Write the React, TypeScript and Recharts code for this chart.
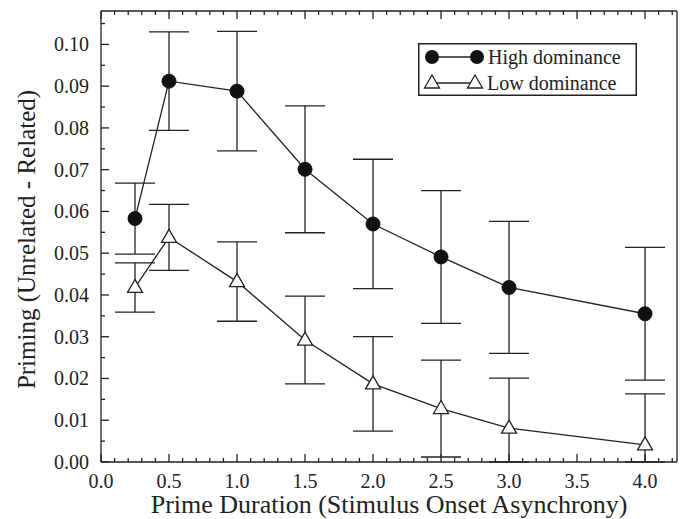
import { LineChart, Line, XAxis, YAxis, ErrorBar, Legend } from 'recharts';

const durations = [0.25, 0.5, 1.0, 1.5, 2.0, 2.5, 3.0, 4.0];
const highMean = [0.0583, 0.0912, 0.0888, 0.0701, 0.057, 0.0491, 0.0418, 0.0355];
const highErr = [0.0085, 0.0118, 0.0143, 0.0152, 0.0155, 0.0159, 0.0158, 0.0159];
const lowMean = [0.0418, 0.0538, 0.0432, 0.0292, 0.0187, 0.0128, 0.0081, 0.0041];
const lowErr = [0.0059, 0.0079, 0.0095, 0.0105, 0.0113, 0.0116, 0.012, 0.0122];

const seriesNames = ['High dominance', 'Low dominance'];
const xTitle = 'Prime Duration (Stimulus Onset Asynchrony)';
const yTitle = 'Priming (Unrelated - Related)';

// every 0.1 on x, every 0.005 on y; labels only on the majors
const xTicks = Array.from({ length: 43 }, (_, i) => i / 10);
const yTicks = Array.from({ length: 22 }, (_, i) => (i * 5) / 1000);

const chartData = durations.map((d, i) => ({
  duration: d,
  high: highMean[i],
  highErr: highErr[i],
  low: lowMean[i],
  lowErr: lowErr[i],
}));

const ink = '#222';
const font = '"Liberation Serif", "Times New Roman", serif';

const isMajorX = (v: number) => Math.abs(v * 2 - Math.round(v * 2)) < 1e-6;
const isMajorY = (v: number) => Math.abs(v * 100 - Math.round(v * 100)) < 1e-6;

// error bars stop at the x axis, like in the original plot
const clippedErr = (mean: string, err: string) => (d: any) => [Math.min(d[err], d[mean]), d[err]];

// ticks point inwards on all four sides
const XTick = (props: any) => {
  const { x, y, payload, side } = props;
  const v = payload.value as number;
  const major = isMajorX(v);
  const dir = side === 'bottom' ? -1 : 1;
  const len = major ? 8 : 4;
  return (
    <g>
      <path d={`M${x},${y}V${y + dir * len}`} stroke={ink} strokeWidth={1.3} fill="none" />
      {side === 'bottom' && major && (
        <text x={x} y={y + 26} textAnchor="middle" fontFamily={font} fontSize={20} fill={ink}>
          {v.toFixed(1)}
        </text>
      )}
    </g>
  );
};

const YTick = (props: any) => {
  const { x, y, payload, side } = props;
  const v = payload.value as number;
  const major = isMajorY(v);
  const dir = side === 'left' ? 1 : -1;
  const len = major ? 8 : 4;
  return (
    <g>
      <path d={`M${x},${y}H${x + dir * len}`} stroke={ink} strokeWidth={1.3} fill="none" />
      {side === 'left' && major && (
        <text x={x - 12} y={y + 7} textAnchor="end" fontFamily={font} fontSize={20} fill={ink}>
          {v.toFixed(2)}
        </text>
      )}
    </g>
  );
};

const XTitle = (props: any) => {
  const { viewBox } = props;
  return (
    <text x={viewBox.x + viewBox.width / 2} y={viewBox.y + 51} textAnchor="middle" fontFamily={font} fontSize={26} fill={ink}>
      {xTitle}
    </text>
  );
};

const YTitle = (props: any) => {
  const { viewBox } = props;
  const cy = viewBox.y + viewBox.height / 2 + 3;
  return (
    <text transform={`translate(35, ${cy}) rotate(-90)`} textAnchor="middle" fontFamily={font} fontSize={25} fill={ink}>
      {yTitle}
    </text>
  );
};

const TriangleDot = (props: any) => {
  const { cx, cy } = props;
  if (cx == null || cy == null) return null;
  return (
    <path
      d={`M${cx},${cy - 8} L${cx + 7.5},${cy + 5} L${cx - 7.5},${cy + 5} Z`}
      fill="#fff"
      stroke={ink}
      strokeWidth={1.3}
    />
  );
};

const CircleDot = (props: any) => {
  const { cx, cy } = props;
  if (cx == null || cy == null) return null;
  return <circle cx={cx} cy={cy} r={7} fill="#111" stroke="#111" />;
};

const LegendBox = () => (
  <svg width={219} height={53} style={{ display: 'block' }}>
    <rect x={0.75} y={0.75} width={217.5} height={51.5} fill="#fff" stroke={ink} strokeWidth={1.5} />
    <line x1={14} y1={14} x2={59} y2={14} stroke={ink} strokeWidth={1.3} />
    <circle cx={14} cy={14} r={7} fill="#111" />
    <circle cx={59} cy={14} r={7} fill="#111" />
    <text x={70} y={21} fontFamily={font} fontSize={20} fill={ink}>{seriesNames[0]}</text>
    <line x1={14} y1={40} x2={57} y2={40} stroke={ink} strokeWidth={1.3} />
    <TriangleDot cx={14} cy={40} />
    <TriangleDot cx={57} cy={40} />
    <text x={69} y={47} fontFamily={font} fontSize={20} fill={ink}>{seriesNames[1]}</text>
  </svg>
);

export default function App() {
  return (
    <div style={{ position: 'absolute', left: 0, top: 0, background: '#fff' }}>
      {/* negative top/right margins: the mirror axes take 20px each but the frame must sit at y=11, x=677 */}
      <LineChart width={684} height={519} data={chartData} margin={{ top: -9, right: -13, bottom: 0, left: 0 }}>
        <XAxis
          xAxisId="bottom"
          dataKey="duration"
          type="number"
          domain={[0, 4.235]}
          ticks={xTicks}
          interval={0}
          height={57}
          tickSize={0}
          tickMargin={0}
          tickLine={false}
          axisLine={{ stroke: ink, strokeWidth: 1.3 }}
          tick={(p: any) => <XTick {...p} side="bottom" />}
          label={<XTitle />}
        />
        <XAxis
          xAxisId="top"
          orientation="top"
          dataKey="duration"
          type="number"
          domain={[0, 4.235]}
          ticks={xTicks}
          interval={0}
          height={20}
          tickSize={0}
          tickMargin={0}
          tickLine={false}
          axisLine={{ stroke: ink, strokeWidth: 1.3 }}
          tick={(p: any) => <XTick {...p} side="top" />}
        />
        <YAxis
          yAxisId="left"
          type="number"
          domain={[0, 0.108]}
          ticks={yTicks}
          interval={0}
          width={101}
          tickSize={0}
          tickMargin={0}
          tickLine={false}
          axisLine={{ stroke: ink, strokeWidth: 1.3 }}
          tick={(p: any) => <YTick {...p} side="left" />}
          label={<YTitle />}
        />
        <YAxis
          yAxisId="right"
          orientation="right"
          type="number"
          domain={[0, 0.108]}
          ticks={yTicks}
          interval={0}
          width={20}
          tickSize={0}
          tickMargin={0}
          tickLine={false}
          axisLine={{ stroke: ink, strokeWidth: 1.3 }}
          tick={(p: any) => <YTick {...p} side="right" />}
        />
        <Legend
          layout="vertical"
          align="center"
          verticalAlign="middle"
          wrapperStyle={{ left: 418, top: 43, width: 219, height: 53 }}
          content={() => <LegendBox />}
        />
        <Line
          xAxisId="bottom"
          yAxisId="left"
          dataKey="high"
          name={seriesNames[0]}
          stroke={ink}
          strokeWidth={1.3}
          dot={(p: any) => <CircleDot key={`h${p.index}`} {...p} />}
          isAnimationActive={false}
        >
          <ErrorBar dataKey={clippedErr('high', 'highErr')} direction="y" width={20} stroke={ink} strokeWidth={1.3} isAnimationActive={false} />
        </Line>
        <Line
          xAxisId="bottom"
          yAxisId="left"
          dataKey="low"
          name={seriesNames[1]}
          stroke={ink}
          strokeWidth={1.3}
          dot={(p: any) => <TriangleDot key={`l${p.index}`} {...p} />}
          isAnimationActive={false}
        >
          <ErrorBar dataKey={clippedErr('low', 'lowErr')} direction="y" width={20} stroke={ink} strokeWidth={1.3} isAnimationActive={false} />
        </Line>
      </LineChart>
    </div>
  );
}
